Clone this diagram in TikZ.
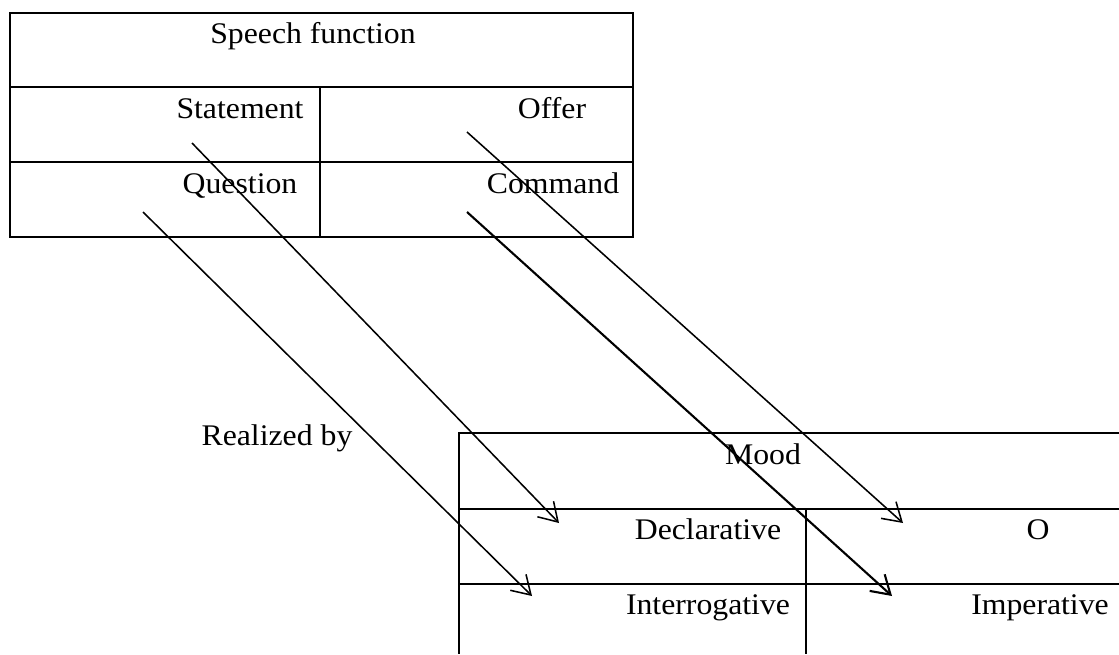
\documentclass[tikz,border=0pt]{standalone}
\usepackage{fontspec}
\setmainfont[FakeStretch=1.06]{Liberation Serif}
\usetikzlibrary{arrows.meta}

\begin{document}
\begin{tikzpicture}[
    x=0.025cm, y=-0.025cm,
    every node/.style={inner sep=0pt, font=\fontsize{21.3}{26}\selectfont},
    cell/.style={anchor=base},
    grid line/.style={line width=1.6pt},
    realize/.style={line width=1.1pt, -{Straight Barb[length=4.5mm, width=5.6mm]}}
]
\useasboundingbox (0,0) rectangle (1119,654);

% Speech function table
\draw[grid line] (10,13) rectangle (633,237);
\draw[grid line] (10,87) -- (633,87);
\draw[grid line] (10,162) -- (633,162);
\draw[grid line] (320,87) -- (320,237);

\node[cell] (speech) at (313,43) {Speech function};
\node[cell] (statement) at (240,118) {Statement};
\node[cell] (offer) at (552,118) {Offer};
\node[cell] (question) at (240,193) {Question};
\node[cell] (command) at (553,193) {Command};

% Mood table (runs off the right and bottom edge)
\draw[grid line] (1119,433) -- (459,433) -- (459,654);
\draw[grid line] (459,509) -- (1119,509);
\draw[grid line] (459,584) -- (1119,584);
\draw[grid line] (806,509) -- (806,654);

\node[cell] (mood) at (763,464) {Mood};
\node[cell] (declarative) at (708,539) {Declarative};
\node[cell] (o) at (1038,539) {O};
\node[cell] (interrogative) at (708,614) {Interrogative};
\node[cell] (imperative) at (1040,614) {Imperative};

\node[cell] (realized) at (277,445) {Realized by};

% Arrow ends
\coordinate (statement-out) at (192,143);
\coordinate (question-out) at (143,212);
\coordinate (offer-out) at (467,132);
\coordinate (command-out) at (467,212);
\coordinate (declarative-in) at (559,523);
\coordinate (interrogative-in) at (532,596);
\coordinate (o-in) at (903,523);
\coordinate (imperative-in) at (892,596);

% Arrows
\draw[realize] (statement-out) -- (declarative-in);
\draw[realize] (question-out) -- (interrogative-in);
\draw[realize] (offer-out) -- (o-in);
\draw[realize, line width=1.5pt] (command-out) -- (imperative-in);

\end{tikzpicture}
\end{document}
